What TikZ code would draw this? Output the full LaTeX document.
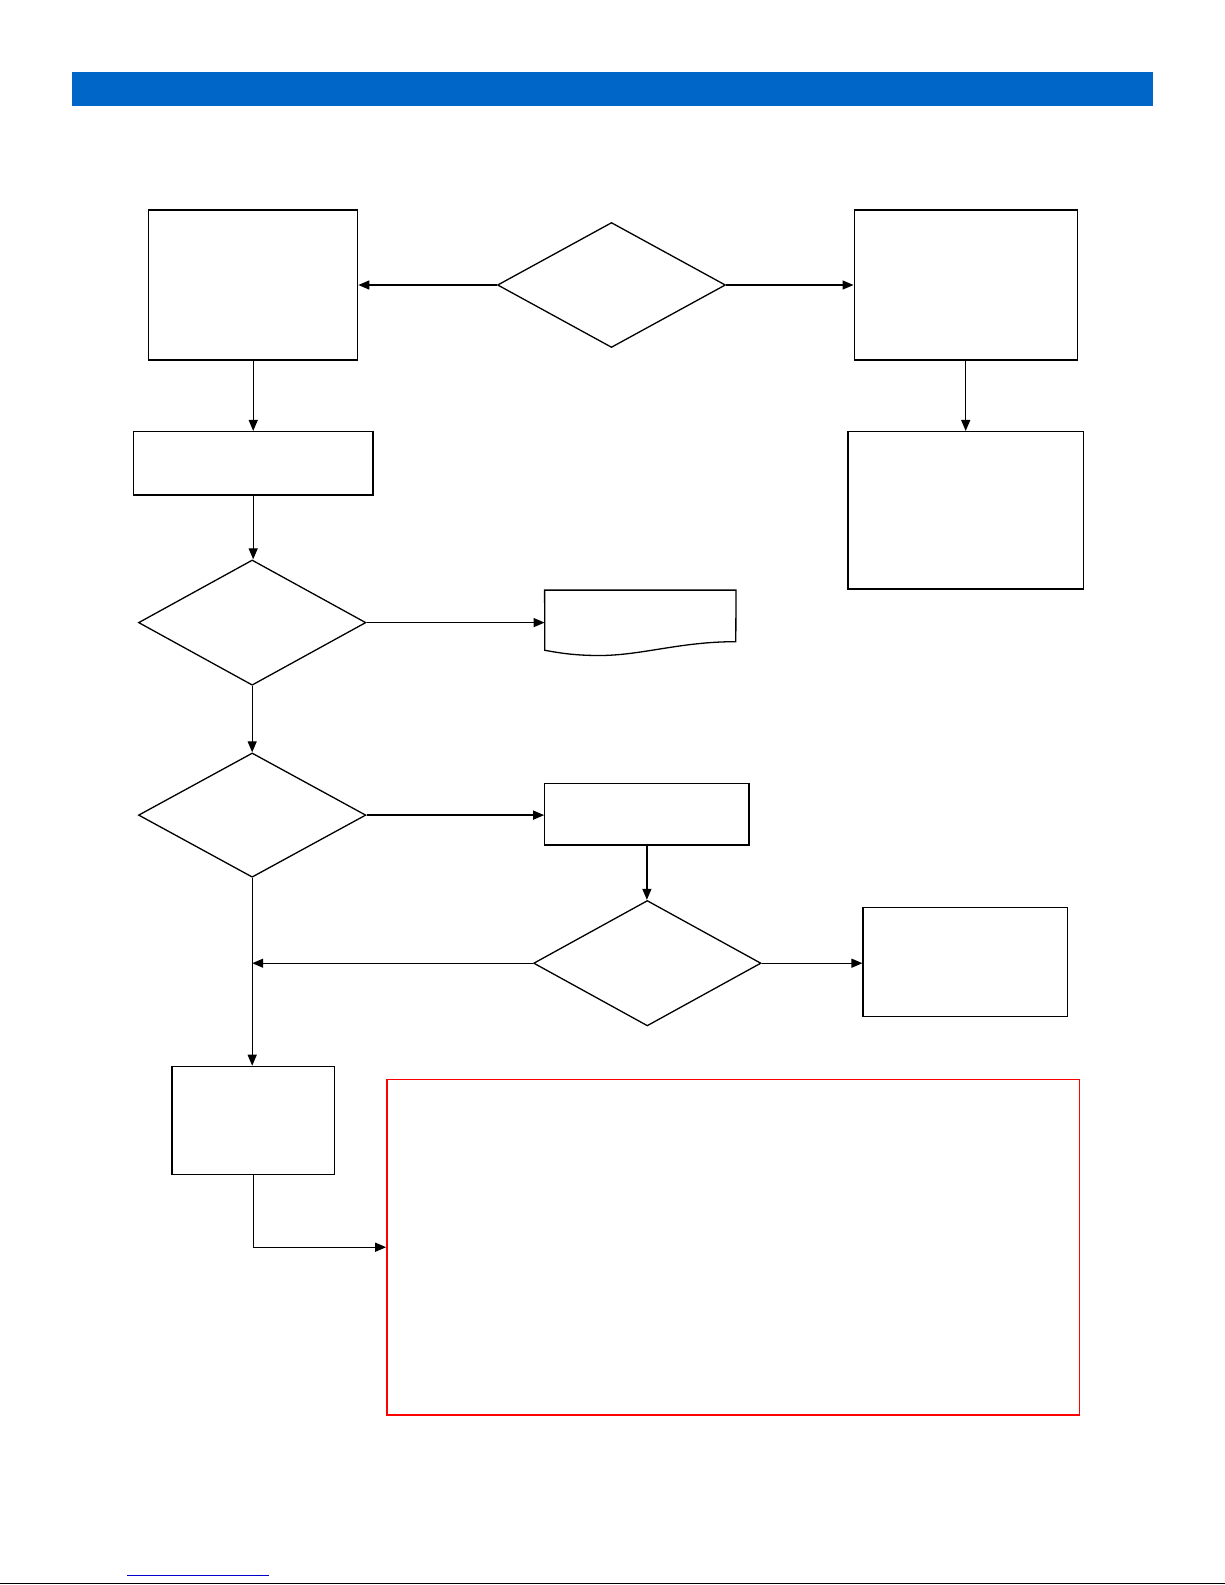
\documentclass[tikz,border=0pt]{standalone}
\usetikzlibrary{shapes.geometric,arrows.meta}
\definecolor{barblue}{RGB}{0,102,199}
\definecolor{linkblue}{RGB}{0,0,204}
\begin{document}
\begin{tikzpicture}[x=1pt,y=-1pt,
  box/.style={draw=black,line width=1.3pt,rectangle,inner sep=0pt,fill=white},
  dec/.style={draw=black,line width=1.3pt,diamond,inner sep=0pt,fill=white},
  conn/.style={draw=black,line width=1.3pt,-{Triangle[length=11pt,width=9pt]}},
  plain/.style={draw=black,line width=1.3pt}]
\useasboundingbox (0,0) rectangle (1225,1585);
\fill[white] (0,0) rectangle (1225,1585);
% header bar
\fill[barblue] (71.8,71.8) rectangle (1152.5,106.2);
% footer
\draw[linkblue,line width=1pt] (127,1575) -- (269,1575);
\draw[black,line width=1.5pt] (0,1583.5) -- (1225,1583.5);

% nodes
\node[box,minimum width=209pt,minimum height=150pt] (A) at (253.2,285) {};
\node[dec,minimum width=228pt,minimum height=125pt] (D1) at (611.5,285) {};
\node[box,minimum width=223pt,minimum height=150pt] (B) at (965.7,285) {};
\node[box,minimum width=239.6pt,minimum height=63.4pt] (C) at (253.2,463.3) {};
\node[box,minimum width=235.5pt,minimum height=157.4pt] (E) at (965.7,510.3) {};
\node[dec,minimum width=227.4pt,minimum height=125.3pt] (D2) at (252.2,622.6) {};
\node[inner sep=0pt,minimum width=191pt,minimum height=60pt] (F) at (640.3,620.3) {};
\draw[plain,fill=white] (F.north west) -- (F.north east) -- (735.8,641.7)
   .. controls (680,641.5) and (640,656) .. (597,655.5)
   .. controls (570,655.3) and (555,652) .. (544.8,650.3) -- cycle;
\node[dec,minimum width=227.4pt,minimum height=124.3pt] (D3) at (252.2,815.1) {};
\node[box,minimum width=204.2pt,minimum height=61.7pt] (G) at (646.9,814.2) {};
\node[dec,minimum width=227.4pt,minimum height=125.4pt] (D4) at (647.3,963.2) {};
\node[box,minimum width=204.3pt,minimum height=109.2pt] (H) at (965.2,962.2) {};
\node[box,minimum width=162.7pt,minimum height=108.1pt] (I) at (253.2,1120.4) {};
\node[draw=red,line width=1.5pt,rectangle,inner sep=0pt,minimum width=692.5pt,minimum height=335.5pt] (R) at (733.2,1247.2) {};

\coordinate (J) at (D3.south |- D4.west);

% connectors
\draw[conn] (D1.west) -- (D1.west -| A.east);
\draw[conn] (D1.east) -- (D1.east -| B.west);
\draw[conn] (A.south) -- (A.south |- C.north);
\draw[conn] (B.south) -- (B.south |- E.north);
\draw[conn] (C.south) -- (C.south |- D2.north);
\draw[conn] (D2.east) -- (D2.east -| F.west);
\draw[conn] (D2.south) -- (D3.north);
\draw[conn] (D3.east) -- (D3.east -| G.west);
\draw[conn] (G.south) -- (G.south |- D4.north);
\draw[conn] (D4.east) -- (D4.east -| H.west);
\draw[conn] (D4.west) -- (J);
\draw[conn] (D3.south) -- (D3.south |- I.north);
\draw[conn] (I.south) |- (R.west);
\end{tikzpicture}
\end{document}
